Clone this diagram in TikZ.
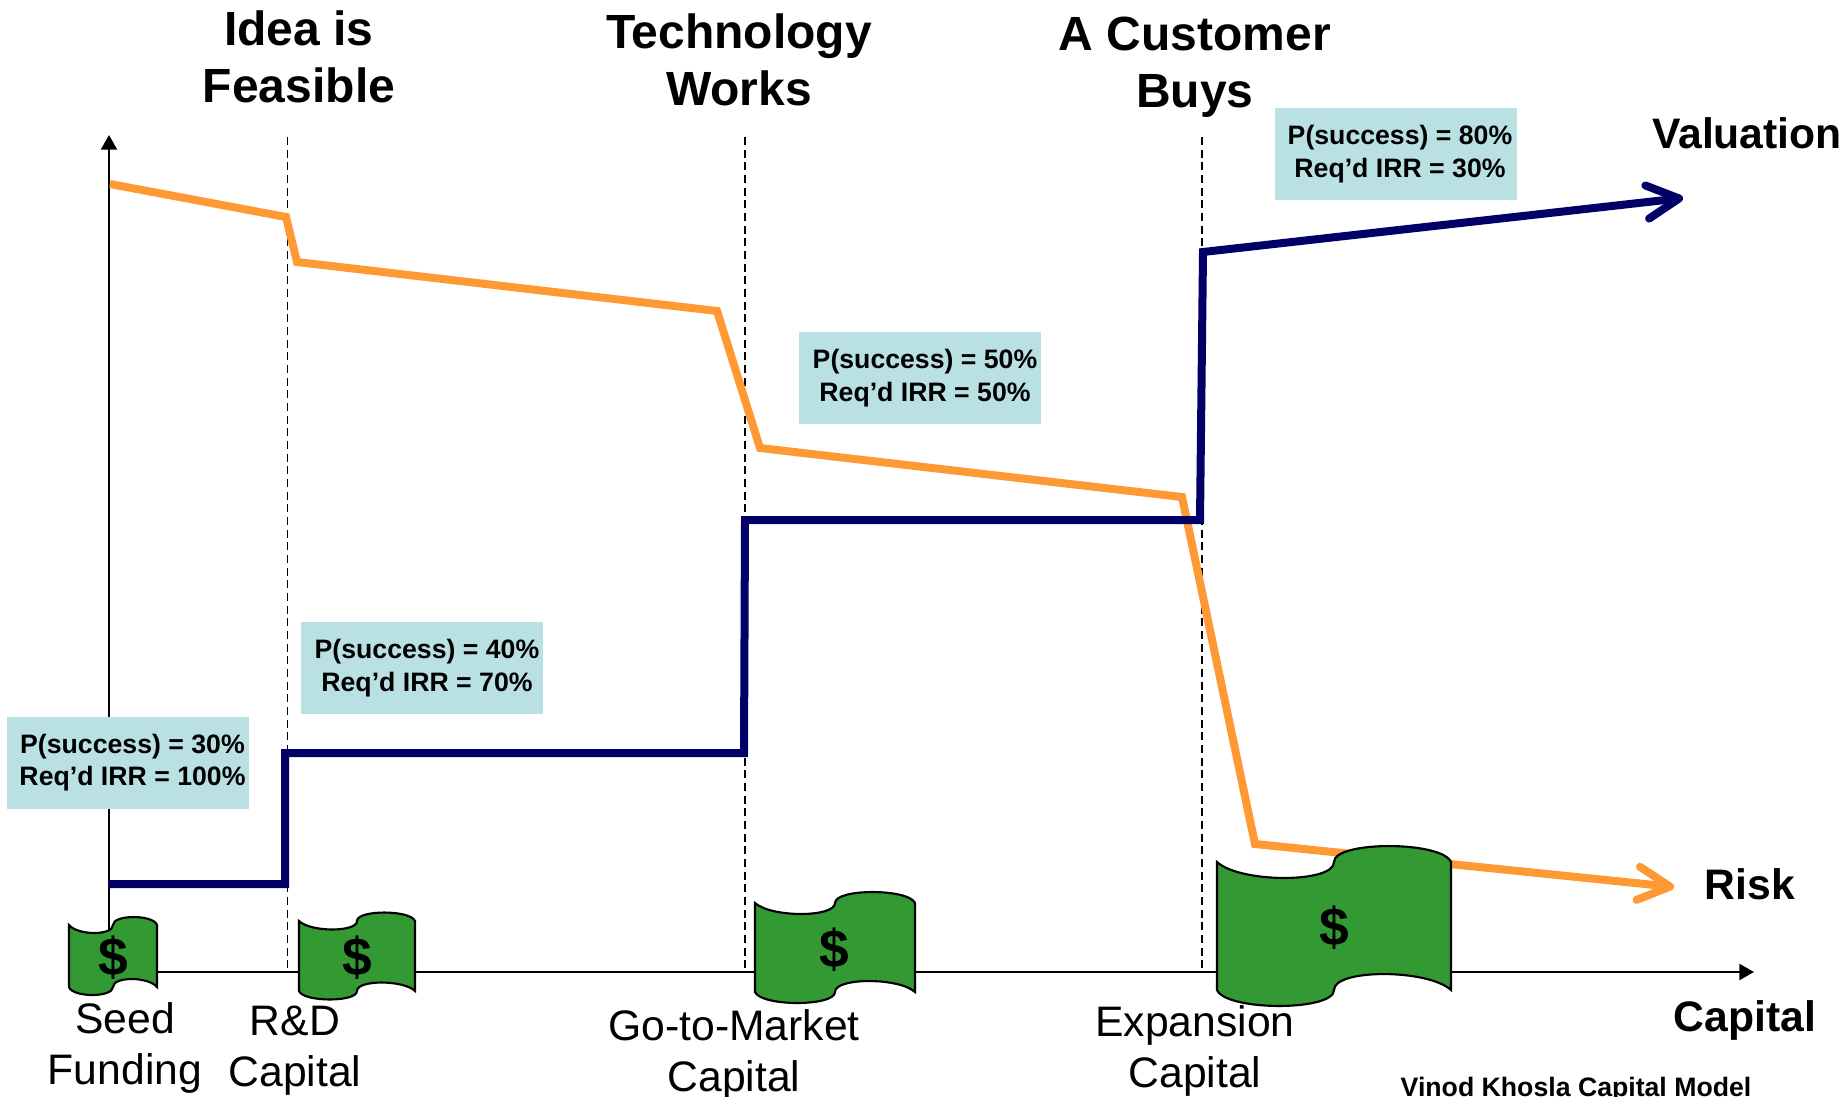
\documentclass[tikz,border=0pt]{standalone}
\usepackage{fontspec}
\setmainfont{Liberation Sans}
\usetikzlibrary{arrows.meta}
\definecolor{navyline}{HTML}{000066}
\definecolor{orangeline}{HTML}{FF9933}
\definecolor{moneygreen}{HTML}{339933}
\definecolor{boxteal}{HTML}{B9E0E3}
\tikzset{
  axisline/.style={line width=1.6pt,-{Triangle[length=11pt,width=12pt]}},
  guide/.style={line width=1.2pt,dash pattern=on 6pt off 3.5pt},
  valueline/.style={navyline,line width=6pt,line join=miter},
  riskline/.style={orangeline,line width=6pt,line join=miter},
  headline/.style={font=\fontsize{36}{42.5}\selectfont\bfseries,align=center,anchor=base,inner sep=0pt},
  stagelabel/.style={font=\fontsize{32}{37.6}\selectfont,align=center,anchor=base,inner sep=0pt},
  axislabel/.style={font=\fontsize{32}{37}\selectfont\bfseries,anchor=base,inner sep=0pt},
  oddsbox/.style={fill=boxteal,inner sep=0pt,minimum width=181.5pt,minimum height=69pt},
  oddstext/.style={font=\fontsize{20}{24.4}\selectfont\bfseries,align=center,anchor=center,inner sep=0pt},
  moneyshape/.style={fill=moneygreen,draw=black,line width=1.6pt,line join=miter},
  dollar/.style={font=\fontsize{40}{42}\selectfont\bfseries,inner sep=0pt},
}
\newcommand{\moneyflag}[5]{%
  \path[moneyshape] (#1,#2)
    .. controls ({#1+0.10*#3},{#2+1.33*#5}) and ({#1+0.5*#3},{#2+1.33*#5}) .. ({#1+0.5*#3},#2)
    .. controls ({#1+0.5*#3},{#2-1.33*#5}) and ({#1+0.96*#3},{#2-1.33*#5}) .. ({#1+#3},#2)
    -- ({#1+#3},{#2+#4})
    .. controls ({#1+0.9*#3},{#2+#4-1.33*#5}) and ({#1+0.5*#3},{#2+#4-1.33*#5}) .. ({#1+0.5*#3},{#2+#4})
    .. controls ({#1+0.5*#3},{#2+#4+1.33*#5}) and ({#1+0.04*#3},{#2+#4+1.33*#5}) .. (#1,{#2+#4})
    -- cycle;}
\begin{document}
\begin{tikzpicture}[x=0.75pt,y=-0.75pt]
\useasboundingbox (0,0) rectangle (1848,1096);
% anchors
\coordinate (origin) at (109,972);
\coordinate (ytop) at (109,135);
\coordinate (xend) at (1754,972);
\foreach \n/\x in {g1/287.5,g2/745,g3/1202}{
  \coordinate (\n t) at (\x,137);
  \coordinate (\n b) at (\x,972);
}
% axes and guides
\draw[axisline] (origin) -- (ytop);
\draw[axisline] (origin) -- (xend);
\draw[guide] (g1t) -- (g1b);
\draw[guide] (g2t) -- (g2b);
\draw[guide] (g3t) -- (g3b);
% titles
\node[headline] (t1) at (299,102.5) {Idea is\\Feasible};
\node[headline] (t2) at (739,105.5) {Technology\\Works};
\node[headline] (t3) at (1195,107.5) {A Customer\\Buys};
% lower labels
\node[stagelabel] (l1) at (125,1084) {Seed\\Funding};
\node[stagelabel] (l2) at (295,1086) {R\&D\\Capital};
\node[stagelabel] (l3) at (734,1091) {Go-to-Market\\Capital};
\node[stagelabel] (l4) at (1195,1087) {Expansion\\Capital};
\node[axislabel] (capital) at (1745,1031) {Capital};
\node[axislabel] (risk) at (1750,899) {Risk};
\node[axislabel] (valuation) at (1747,148) {Valuation};
\node[font=\fontsize{20}{24}\selectfont\bfseries,anchor=base,inner sep=0pt] (credit) at (1576,1096) {Vinod Khosla Capital Model};
% risk line
\coordinate (r0) at (110,184);
\coordinate (r1) at (286,217);
\coordinate (r2) at (297,262);
\coordinate (r3) at (717,311);
\coordinate (r4) at (760,448);
\coordinate (r5) at (1182,497);
\coordinate (r6) at (1255,844);
\coordinate (r7) at (1674,887);
\draw[riskline,-{Straight Barb[length=24pt,width=25pt,round]}] (r0) -- (r1) -- (r2) -- (r3) -- (r4) -- (r5) -- (r6) -- (r7);
% value line
\coordinate (v0) at (108,884);
\coordinate (v1) at (285,884);
\coordinate (v2) at (285,753);
\coordinate (v3) at (744,753);
\coordinate (v4) at (745,520);
\coordinate (v5) at (1200,520);
\coordinate (v6) at (1203,252);
\coordinate (v7) at (1683,198);
\draw[valueline,-{Straight Barb[length=24pt,width=25pt,round]}] (v0) -- (v1) -- (v2) -- (v3) -- (v4) -- (v5) -- (v6) -- (v7);
% boxes
\node[oddsbox] (b1) at (128,762.5) {};
\node[oddstext] (o1) at (132.5,762.5) {P(success) = 30\%\\Req’d IRR = 100\%};
\node[oddsbox] (b2) at (422,668) {};
\node[oddstext] (o2) at (427,668) {P(success) = 40\%\\Req’d IRR = 70\%};
\node[oddsbox] (b3) at (920,378) {};
\node[oddstext] (o3) at (925,378) {P(success) = 50\%\\Req’d IRR = 50\%};
\node[oddsbox] (b4) at (1396,154) {};
\node[oddstext] (o4) at (1400,154) {P(success) = 80\%\\Req’d IRR = 30\%};
% money
\moneyflag{69}{925}{88}{62}{8}
\node[dollar] (d1) at (113,958) {\$};
\moneyflag{299}{921}{116}{70}{8.5}
\node[dollar] (d2) at (357,958) {\$};
\moneyflag{755}{903}{160}{89}{11}
\node[dollar] (d3) at (834,950) {\$};
\moneyflag{1217}{862}{234}{128}{16}
\node[dollar] (d4) at (1334,928) {\$};
\end{tikzpicture}
\end{document}
